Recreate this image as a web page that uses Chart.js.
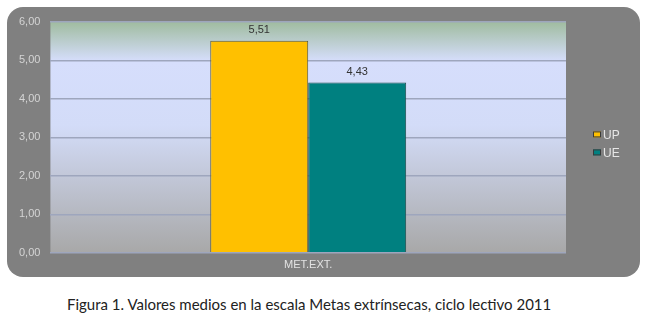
<!DOCTYPE html>
<html>
<head>
<meta charset="utf-8">
<script src="https://cdn.jsdelivr.net/npm/chart.js@4"></script>
<style>
  body { margin: 0; background: #fff; }
  #wrap { position: relative; width: 653px; height: 285px; }
  #caption {
    position: absolute; left: 67px; top: 295px; line-height: 18px;
    font-family: Lato, sans-serif; font-size: 15px; color: #222;
    white-space: nowrap;
  }
</style>
</head>
<body>
<div id="wrap"><canvas id="chart" width="653" height="285"></canvas></div>
<div id="caption">Figura 1. Valores medios en la escala Metas extrínsecas, ciclo lectivo 2011</div>
<script>
const categories = ['MET.EXT.'];
const seriesNames = ['UP', 'UE'];
const upValues = [5.51];
const ueValues = [4.43];
const yTicks = [0, 1, 2, 3, 4, 5, 6];

const fmt = v => v.toFixed(2).replace('.', ',');

// grey rounded panel + gradient plot background
const panelBg = {
  id: 'panelBg',
  beforeDraw(chart) {
    const ctx = chart.ctx;
    const a = chart.chartArea;
    ctx.save();
    ctx.fillStyle = '#808080';
    ctx.beginPath();
    ctx.roundRect(7, 7, 633, 270, 16);
    ctx.fill();
    const g = ctx.createLinearGradient(0, a.top, 0, a.bottom);
    g.addColorStop(0, '#a0bca0');
    g.addColorStop(0.17, '#d6defc');
    g.addColorStop(0.45, '#d3dcf8');
    g.addColorStop(1, '#a8a8a8');
    ctx.fillStyle = g;
    ctx.fillRect(a.left, a.top, a.right - a.left, a.bottom - a.top);
    ctx.restore();
  }
};

const valueLabels = {
  id: 'valueLabels',
  afterDatasetsDraw(chart) {
    const ctx = chart.ctx;
    ctx.save();
    ctx.font = '11px Arial, "Liberation Sans", sans-serif';
    ctx.fillStyle = '#333';
    ctx.textAlign = 'center';
    ctx.textBaseline = 'bottom';
    chart.data.datasets.forEach((ds, i) => {
      chart.getDatasetMeta(i).data.forEach((bar, j) => {
        ctx.fillText(fmt(ds.data[j]), bar.x, bar.y - 5);
      });
    });
    ctx.restore();
  }
};

// legend on the right side of the panel
const sideLegend = {
  id: 'sideLegend',
  afterDraw(chart) {
    const ctx = chart.ctx;
    const a = chart.chartArea;
    const x = a.right + 27;
    const mid = (a.top + a.bottom) / 2;
    ctx.save();
    ctx.font = '12px Arial, "Liberation Sans", sans-serif';
    ctx.textBaseline = 'middle';
    chart.data.datasets.forEach((ds, i) => {
      const y = mid - 3 + i * 18;
      ctx.fillStyle = ds.backgroundColor;
      ctx.fillRect(x, y - 3, 8, 6);
      ctx.strokeStyle = '#3a3a3a';
      ctx.lineWidth = 1;
      ctx.strokeRect(x + 0.5, y - 2.5, 7, 5);
      ctx.fillStyle = '#e6e6e6';
      ctx.fillText(ds.label, x + 10, y + 1);
    });
    ctx.restore();
  }
};

new Chart(document.getElementById('chart'), {
  type: 'bar',
  data: {
    labels: categories,
    datasets: [
      { label: seriesNames[0], data: upValues, backgroundColor: '#ffc000', borderColor: '#5a5a3a', borderWidth: 1 },
      { label: seriesNames[1], data: ueValues, backgroundColor: '#008080', borderColor: '#1f4f4f', borderWidth: 1 }
    ]
  },
  options: {
    responsive: false,
    animation: false,
    layout: { padding: { left: 9, top: 22, right: 87, bottom: 15 } },
    datasets: { bar: { barPercentage: 1, categoryPercentage: 0.38 } },
    scales: {
      x: {
        grid: { display: false },
        border: { display: false },
        ticks: { color: '#e2e2e2', font: { family: 'Arial', size: 11 }, padding: -2 }
      },
      y: {
        min: yTicks[0], max: yTicks[yTicks.length - 1],
        afterBuildTicks: s => { s.ticks = yTicks.map(v => ({ value: v })); },
        grid: { color: '#9ea6bd', lineWidth: 1.5, drawTicks: false },
        border: { display: false },
        ticks: { color: '#d4d4d4', font: { family: 'Arial', size: 11 }, padding: 10, callback: v => fmt(v) }
      }
    },
    plugins: {
      legend: { display: false },
      tooltip: { enabled: false }
    }
  },
  plugins: [panelBg, valueLabels, sideLegend]
});
</script>
</body>
</html>
